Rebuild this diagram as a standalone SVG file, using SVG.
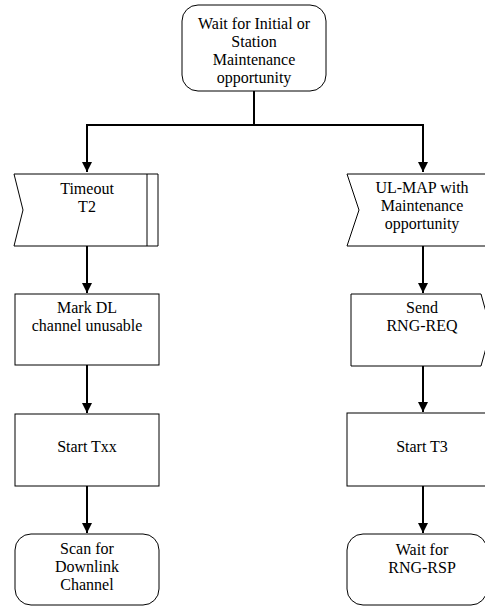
<svg xmlns="http://www.w3.org/2000/svg" width="485" height="606" viewBox="0 0 485 606">
<style>
.shape{fill:#fff;stroke:#000;stroke-width:1}
.t{font-family:"Liberation Serif","Times New Roman",Times,serif;font-size:16px;fill:#000;text-anchor:middle}
.c{fill:none;stroke:#000;stroke-width:2}
</style>
<defs>
<marker id="ah" markerWidth="10" markerHeight="10" refX="10" refY="5" orient="auto" markerUnits="userSpaceOnUse">
<path d="M0,0 L10,5 L0,10 Z" fill="#000"/>
</marker>
</defs>
<rect width="485" height="606" fill="#fff"/>
<g id="connectors">
<path class="c" d="M254,91 V125 H87 V172" marker-end="url(#ah)"/>
<path class="c" d="M254,125 H423 V172" marker-end="url(#ah)"/>
<path class="c" d="M87,246 V293" marker-end="url(#ah)"/>
<path class="c" d="M87,365 V413" marker-end="url(#ah)"/>
<path class="c" d="M87,486 V533" marker-end="url(#ah)"/>
<path class="c" d="M423,246 V293" marker-end="url(#ah)"/>
<path class="c" d="M423,365 V412" marker-end="url(#ah)"/>
<path class="c" d="M423,486 V533" marker-end="url(#ah)"/>
</g>
<g id="start">
<rect class="shape" x="182" y="5" width="144" height="86" rx="16" ry="16"/>
<text class="t" x="254" y="29">Wait for Initial or</text>
<text class="t" x="254" y="47">Station</text>
<text class="t" x="254" y="65">Maintenance</text>
<text class="t" x="254" y="83">opportunity</text>
</g>
<g id="timeout">
<path class="shape" d="M14,174 H158 V246 H14 L23,210 Z"/>
<line x1="147" y1="174" x2="147" y2="246" stroke="#000" stroke-width="1"/>
<text class="t" x="87" y="194">Timeout</text>
<text class="t" x="87" y="212">T2</text>
</g>
<g id="markdl">
<rect class="shape" x="15" y="294" width="144" height="71"/>
<text class="t" x="87" y="313">Mark DL</text>
<text class="t" x="87" y="331">channel unusable</text>
</g>
<g id="starttxx">
<rect class="shape" x="15" y="414" width="144" height="72"/>
<text class="t" x="87" y="452">Start Txx</text>
</g>
<g id="scan">
<rect class="shape" x="15" y="534" width="144" height="71" rx="16" ry="16"/>
<text class="t" x="87" y="554">Scan for</text>
<text class="t" x="87" y="572">Downlink</text>
<text class="t" x="87" y="590">Channel</text>
</g>
<g id="ulmap">
<path class="shape" d="M347,174 H491 V246 H347 L359,210 Z"/>
<text class="t" x="422" y="193">UL-MAP with</text>
<text class="t" x="422" y="211">Maintenance</text>
<text class="t" x="422" y="229">opportunity</text>
</g>
<g id="send">
<path class="shape" d="M351,294 H481 L491,330 L481,366 H351 Z"/>
<text class="t" x="422" y="313">Send</text>
<text class="t" x="422" y="331">RNG-REQ</text>
</g>
<g id="startt3">
<rect class="shape" x="347" y="413" width="144" height="73"/>
<text class="t" x="422" y="452">Start T3</text>
</g>
<g id="waitrsp">
<rect class="shape" x="347" y="534" width="140" height="71" rx="16" ry="16"/>
<text class="t" x="422" y="555">Wait for</text>
<text class="t" x="422" y="573">RNG-RSP</text>
</g>
</svg>
